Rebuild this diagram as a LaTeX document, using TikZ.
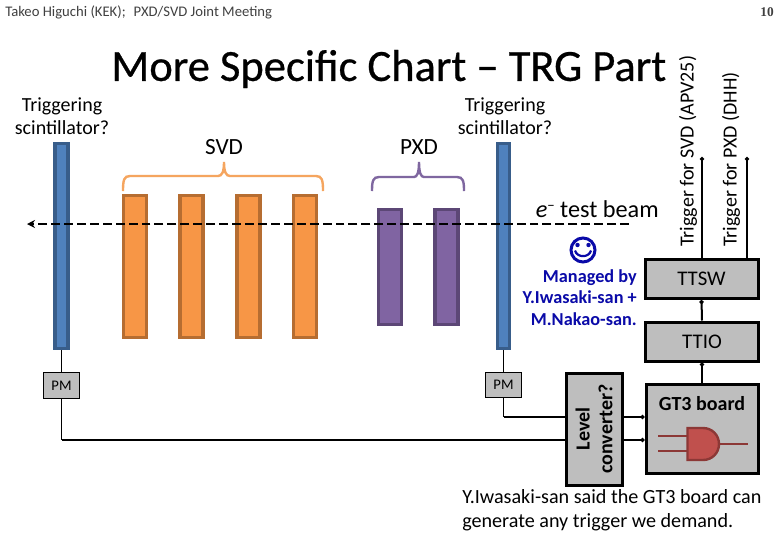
\documentclass[tikz,border=0pt]{standalone}
\usepackage{fontspec}
\setmainfont{Carlito}
\newfontfamily\titlefont[FakeBold=0.6]{Carlito}
\newfontfamily\pgfont{Liberation Serif}
\usetikzlibrary{arrows.meta}
\definecolor{orF}{HTML}{F79646}\definecolor{orD}{HTML}{B66D31}
\definecolor{puF}{HTML}{8064A2}\definecolor{puD}{HTML}{5C4776}
\definecolor{blF}{HTML}{4F81BD}\definecolor{blD}{HTML}{385D8A}
\definecolor{grayF}{HTML}{BEBEBE}\definecolor{manB}{HTML}{0A0AA8}
\definecolor{redF}{HTML}{C0504D}\definecolor{redD}{HTML}{8C3836}
\definecolor{braceO}{HTML}{F5A55F}\definecolor{braceP}{HTML}{7F67A0}
\tikzset{
 x=0.75pt,y=-0.75pt,
 sz/.style 2 args={minimum width=#1*0.75pt,minimum height=#2*0.75pt,inner sep=0pt},
 bar/.style={draw,line width=3.2pt*0.75,inner sep=0pt},
 orbar/.style={bar,draw=orD,fill=orF},
 pubar/.style={bar,draw=puD,fill=puF},
 blbar/.style={bar,draw=blD,fill=blF},
 hw/.style={draw=black,line width=3pt*0.75,fill=grayF,inner sep=0pt},
 pmbox/.style={draw=black,line width=0.9pt*0.75,fill=grayF,inner sep=0pt,font=\fontsize{11}{13}\selectfont},
 label/.style={inner sep=0pt,align=center,font=\fontsize{15}{17.4}\selectfont,text=black},
 hwtext/.style={font=\fontsize{15.6}{17}\selectfont},
 wire/.style={line width=2pt*0.75,black},
 thin wire/.style={line width=1.1pt*0.75,black},
 dotend/.style={-{Circle[length=3pt,width=3pt]}},
 brace/.style={line width=2.4pt*0.75},
}
\begin{document}
\begin{tikzpicture}
\useasboundingbox (0,0) rectangle (780,540);
\fill[white] (0,0) rectangle (780,540);
% header
\node[anchor=west,inner sep=0pt,font=\fontsize{11}{13}\selectfont,text=black!75] (hdr) at (5,12) {Takeo Higuchi (KEK);\hspace{6pt}PXD/SVD Joint Meeting};
\node[anchor=east,inner sep=0pt,font=\fontsize{10}{12}\pgfont\bfseries\selectfont,text=black!75] (pg) at (774,12) {10};
\node[anchor=west,inner sep=0pt,font=\fontsize{33.4}{38}\titlefont\selectfont] (title) at (111,69) {More Specific Chart – TRG Part};
% scintillators
\node[blbar,sz={13}{205}] (blL) at (61.5,246) {};
\node[blbar,sz={12}{205}] (blR) at (503.5,246) {};
% SVD
\foreach \n/\c in {a/135,b/191.5,c/248.5,d/305}
 \node[orbar,sz={23}{142}] (or\n) at (\c,266.5) {};
\foreach \n/\c in {a/390,b/446.5}
 \node[pubar,sz={23}{115}] (pu\n) at (\c,267) {};
% braces
\coordinate (brOL) at (123,191);\coordinate (brOM) at (224,162);\coordinate (brOR) at (323,191);
\draw[brace,braceO] (brOL) .. controls (123,180) and (124,176) .. (130,176) -- (218,176) .. controls (222,176) and (224,172) .. (brOM) .. controls (224,172) and (226,176) .. (230,176) -- (316,176) .. controls (322,176) and (323,180) .. (brOR);
\coordinate (brPL) at (372,191);\coordinate (brPM) at (419,162);\coordinate (brPR) at (464,191);
\draw[brace,braceP] (brPL) .. controls (372,181) and (373,177) .. (379,177) -- (414,177) .. controls (417,177) and (419,173) .. (brPM) .. controls (419,173) and (421,177) .. (424,177) -- (457,177) .. controls (463,177) and (464,181) .. (brPR);
% beam
\coordinate (beamS) at (629,224);\coordinate (beamE) at (27,224);
\draw[line width=2.8pt*0.75,dash pattern=on 6.7pt off 3pt,-{Stealth[length=6pt,width=6pt]}] (beamS) -- (beamE);
% labels
\node[label] (trL) at (62,116.5) {Triggering\\scintillator?};
\node[label] (trR) at (505,116.5) {Triggering\\scintillator?};
\node[label,font=\fontsize{17.4}{20}\selectfont] (svd) at (224,147) {SVD};
\node[label,font=\fontsize{17.4}{20}\selectfont] (pxd) at (419,147) {PXD};
\node[label,anchor=east,font=\fontsize{18.2}{20}\selectfont] (beamT) at (659,209) {{\itshape e}\raisebox{5pt}{\fontsize{11}{11}\selectfont −} test beam};
% smiley
\node[circle,draw=manB,line width=3pt*.75,minimum size=24*.75pt,inner sep=0pt] (smile) at (583,250) {};
\fill[manB] (577.5,245) circle (2.2*.75pt) (588.5,245) circle (2.2*.75pt);
\draw[manB,line width=2.2pt*.75] (575,250.5) .. controls (577,258) and (589,258) .. (591,250.5);
\node[anchor=north east,inner sep=0pt,align=right,text=manB,font=\fontsize{13.7}{16.3}\bfseries\selectfont] (mgr) at (637,269) {Managed by\hspace{3.5pt}\\Y.Iwasaki-san +\hspace{3.5pt}\\M.Nakao-san.};
% hardware
\node[hw,sz={113}{39},hwtext] (ttsw) at (701.5,279) {TTSW};
\node[hw,sz={113}{39},hwtext] (ttio) at (702,341.5) {TTIO};
\node[hw,sz={112}{89}] (gt) at (702,428.5) {};
\node[inner sep=0pt,font=\fontsize{15}{17}\bfseries\selectfont] (gtT) at (702,404) {GT3 board};
\node[hw,sz={56}{112}] (lc) at (594,429) {};
\node[inner sep=0pt,rotate=90,align=center,font=\fontsize{15}{17}\bfseries\selectfont] (lcT) at (594,429) {Level\\converter?};
\node[pmbox,sz={36}{26}] (pmL) at (61.5,385.5) {PM};
\node[pmbox,sz={36}{25}] (pmR) at (503.5,385) {PM};
% connectors
\draw[thin wire] (blL.south) -- (pmL.north);
\draw[thin wire] (blR.south) -- (pmR.north);
\coordinate (cA) at (503.5,417);\coordinate (cB) at (61.5,440);
\draw[thin wire] (pmR.south) -- (cA);
\draw[thin wire] (pmL.south) -- (cB);
\draw[wire] (cA) -- (cA -| lc.west);
\draw[wire] (cB) -- (cB -| lc.west);
\draw[wire,dotend] (cA -| lc.east) -- (cA -| gt.west);
\draw[wire,dotend] (cB -| lc.east) -- (cB -| gt.west);
\draw[wire,dotend] (gt.north) -- (ttio.south);
\draw[wire,dotend] (ttio.north) -- (ttsw.south);
\coordinate (tSVD) at (702,157);\coordinate (tPXD) at (747,157);
\draw[wire,dotend] (tSVD |- ttsw.north) -- (tSVD);
\draw[wire,dotend] (tPXD |- ttsw.north) -- (tPXD);
% trigger labels
\node[inner sep=0pt,rotate=90,anchor=west,font=\fontsize{15}{17}\selectfont] (tgS) at (688,247) {Trigger for SVD (APV25)};
\node[inner sep=0pt,rotate=90,anchor=west,font=\fontsize{15}{17}\selectfont] (tgP) at (731,247) {Trigger for PXD (DHH)};
% AND gate
\coordinate (gI1) at (658,436);\coordinate (gI2) at (658,451);\coordinate (gO) at (748,444);
\draw[redD,line width=2.2pt*.75] (gI1) -- (688,436) (gI2) -- (688,451) (718,444) -- (gO);
\draw[redD,fill=redF,line width=2.4pt*.75] (687.5,428) -- (703,428) .. controls (712,428) and (719,435) .. (719,444) .. controls (719,453) and (712,460) .. (703,460) -- (687.5,460) -- cycle;
% note
\node[anchor=north west,inner sep=0pt,align=left,font=\fontsize{15.1}{18}\selectfont] (note) at (462,489) {Y.Iwasaki-san said the GT3 board can\\generate any trigger we demand.};
\end{tikzpicture}
\end{document}
